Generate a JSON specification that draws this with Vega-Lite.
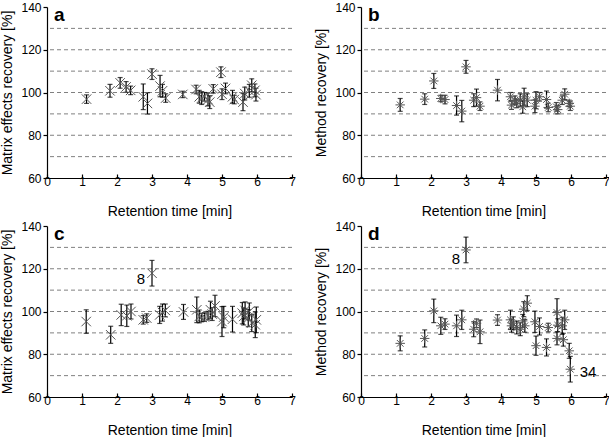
{
"$schema":"https://vega.github.io/schema/vega-lite/v6.json",
"padding":{"left":0,"top":1,"right":0,"bottom":0},
"spacing":2,
"datasets":{
"grid":[{"g":70},{"g":80},{"g":90},{"g":100},{"g":110},{"g":120},{"g":130}],
"a":[
{"x":1.13,"y":96.9,"lo":94.9,"hi":98.9},{"x":1.8,"y":100.8,"lo":97.8,"hi":103.8},{"x":2.09,"y":104.5,"lo":102,"hi":107},{"x":2.26,"y":102.6,"lo":100.1,"hi":105.1},{"x":2.39,"y":101,"lo":99,"hi":103},{"x":2.75,"y":98,"lo":92,"hi":104},{"x":2.87,"y":94.9,"lo":89.9,"hi":99.9},{"x":3.0,"y":108.6,"lo":106.1,"hi":111.1},{"x":3.23,"y":103,"lo":98,"hi":108},{"x":3.3,"y":100.8,"lo":97.8,"hi":103.8},{"x":3.39,"y":97.4,"lo":95.4,"hi":99.4},{"x":3.88,"y":99.1,"lo":97.6,"hi":100.6},{"x":4.26,"y":101.4,"lo":99.4,"hi":103.4},{"x":4.35,"y":98,"lo":95,"hi":101},{"x":4.42,"y":97.4,"lo":94.4,"hi":100.4},{"x":4.5,"y":98,"lo":96,"hi":100},{"x":4.6,"y":96.7,"lo":93.7,"hi":99.7},{"x":4.65,"y":95.5,"lo":92.5,"hi":98.5},{"x":4.75,"y":101.7,"lo":99.7,"hi":103.7},{"x":4.97,"y":109.5,"lo":107,"hi":112},{"x":5.0,"y":99.2,"lo":96.7,"hi":101.7},{"x":5.1,"y":101.9,"lo":99.4,"hi":104.4},{"x":5.3,"y":98,"lo":95,"hi":101},{"x":5.35,"y":96.7,"lo":94.7,"hi":98.7},{"x":5.6,"y":95.5,"lo":91.5,"hi":99.5},{"x":5.65,"y":99.5,"lo":96.5,"hi":102.5},{"x":5.78,"y":100.8,"lo":97.8,"hi":103.8},{"x":5.85,"y":103.4,"lo":100.4,"hi":106.4},{"x":5.94,"y":101,"lo":98,"hi":104},{"x":5.97,"y":99,"lo":96,"hi":102}],
"b":[
{"x":1.12,"y":94.2,"lo":91.2,"hi":97.2},{"x":1.82,"y":96.9,"lo":94.4,"hi":99.4},{"x":2.08,"y":105.4,"lo":101.9,"hi":108.9},{"x":2.28,"y":97.2,"lo":95.7,"hi":98.7},{"x":2.4,"y":96.7,"lo":94.7,"hi":98.7},{"x":2.73,"y":93.9,"lo":89.4,"hi":98.4},{"x":2.88,"y":91.3,"lo":86.3,"hi":96.3},{"x":3.0,"y":112,"lo":109,"hi":115},{"x":3.22,"y":96.4,"lo":93.4,"hi":99.4},{"x":3.3,"y":97.6,"lo":93.6,"hi":101.6},{"x":3.4,"y":93.6,"lo":91.6,"hi":95.6},{"x":3.9,"y":101.1,"lo":96.1,"hi":106.1},{"x":4.27,"y":98,"lo":96,"hi":100},{"x":4.3,"y":94.1,"lo":92.1,"hi":96.1},{"x":4.4,"y":96.4,"lo":94.4,"hi":98.4},{"x":4.45,"y":94.9,"lo":92.9,"hi":96.9},{"x":4.55,"y":96.4,"lo":93.4,"hi":99.4},{"x":4.62,"y":93.3,"lo":90.3,"hi":96.3},{"x":4.66,"y":98,"lo":94,"hi":102},{"x":4.75,"y":96.4,"lo":93.4,"hi":99.4},{"x":4.97,"y":93.6,"lo":90.6,"hi":96.6},{"x":5.0,"y":96.4,"lo":92.4,"hi":100.4},{"x":5.1,"y":98,"lo":96,"hi":100},{"x":5.3,"y":96.7,"lo":92.7,"hi":100.7},{"x":5.35,"y":93,"lo":91,"hi":95},{"x":5.58,"y":93.3,"lo":91.3,"hi":95.3},{"x":5.62,"y":92,"lo":90,"hi":94},{"x":5.75,"y":96.4,"lo":94.4,"hi":98.4},{"x":5.82,"y":99.2,"lo":96.7,"hi":101.7},{"x":5.95,"y":94.9,"lo":93.4,"hi":96.4},{"x":5.98,"y":93.6,"lo":91.6,"hi":95.6}],
"c":[
{"x":1.12,"y":95.3,"lo":89.8,"hi":100.8},{"x":1.82,"y":89.1,"lo":85.1,"hi":93.1},{"x":2.12,"y":98.4,"lo":93.4,"hi":103.4},{"x":2.28,"y":98,"lo":93,"hi":103},{"x":2.4,"y":100,"lo":96.5,"hi":103.5},{"x":2.75,"y":96.1,"lo":94.1,"hi":98.1},{"x":2.85,"y":96.9,"lo":94.9,"hi":98.9},{"x":3.0,"y":117.9,"lo":111.9,"hi":123.9},{"x":3.22,"y":98.4,"lo":94.4,"hi":102.4},{"x":3.3,"y":99.5,"lo":95.5,"hi":103.5},{"x":3.38,"y":100.5,"lo":97.5,"hi":103.5},{"x":3.9,"y":99.8,"lo":96.3,"hi":103.3},{"x":4.28,"y":100.8,"lo":94.8,"hi":106.8},{"x":4.35,"y":97.7,"lo":94.7,"hi":100.7},{"x":4.42,"y":97.2,"lo":95.2,"hi":99.2},{"x":4.5,"y":97.4,"lo":95.4,"hi":99.4},{"x":4.6,"y":98.1,"lo":96.1,"hi":100.1},{"x":4.67,"y":100.8,"lo":96.8,"hi":104.8},{"x":4.72,"y":98.8,"lo":95.8,"hi":101.8},{"x":4.8,"y":102.6,"lo":97.6,"hi":107.6},{"x":5.0,"y":95.3,"lo":88.3,"hi":102.3},{"x":5.05,"y":97.4,"lo":92.4,"hi":102.4},{"x":5.3,"y":96.4,"lo":90.4,"hi":102.4},{"x":5.58,"y":99.2,"lo":94.2,"hi":104.2},{"x":5.62,"y":97.7,"lo":93.7,"hi":101.7},{"x":5.66,"y":100.5,"lo":96.5,"hi":104.5},{"x":5.75,"y":96.9,"lo":92.9,"hi":100.9},{"x":5.78,"y":100,"lo":96,"hi":104},{"x":5.85,"y":94.6,"lo":90.6,"hi":98.6},{"x":5.95,"y":93.8,"lo":87.8,"hi":99.8},{"x":5.98,"y":96.1,"lo":90.1,"hi":102.1}],
"d":[
{"x":1.12,"y":85.1,"lo":81.6,"hi":88.6},{"x":1.82,"y":87.4,"lo":83.4,"hi":91.4},{"x":2.08,"y":100.3,"lo":94.8,"hi":105.8},{"x":2.28,"y":93.3,"lo":89.3,"hi":97.3},{"x":2.4,"y":94.1,"lo":91.6,"hi":96.6},{"x":2.73,"y":93.3,"lo":88.3,"hi":98.3},{"x":2.88,"y":96.1,"lo":91.6,"hi":100.6},{"x":3.0,"y":128.8,"lo":122.8,"hi":134.8},{"x":3.22,"y":91.7,"lo":88.2,"hi":95.2},{"x":3.3,"y":94.5,"lo":92.5,"hi":96.5},{"x":3.4,"y":90.5,"lo":85,"hi":96},{"x":3.9,"y":96,"lo":93.5,"hi":98.5},{"x":4.27,"y":96.1,"lo":91.6,"hi":100.6},{"x":4.3,"y":93.3,"lo":90.3,"hi":96.3},{"x":4.35,"y":94.5,"lo":91.5,"hi":97.5},{"x":4.45,"y":92.5,"lo":89.5,"hi":95.5},{"x":4.55,"y":91.7,"lo":88.7,"hi":94.7},{"x":4.62,"y":95.6,"lo":92.6,"hi":98.6},{"x":4.65,"y":101.1,"lo":97.6,"hi":104.6},{"x":4.68,"y":93.3,"lo":90.3,"hi":96.3},{"x":4.75,"y":103.9,"lo":100.4,"hi":107.4},{"x":4.97,"y":95.2,"lo":90.2,"hi":100.2},{"x":5.0,"y":84,"lo":79.5,"hi":88.5},{"x":5.1,"y":93,"lo":89,"hi":97},{"x":5.3,"y":83.2,"lo":79.2,"hi":87.2},{"x":5.35,"y":92.5,"lo":90.5,"hi":94.5},{"x":5.6,"y":99.5,"lo":93,"hi":106},{"x":5.62,"y":93.6,"lo":90.6,"hi":96.6},{"x":5.6,"y":87.4,"lo":84.4,"hi":90.4},{"x":5.75,"y":93.3,"lo":89.3,"hi":97.3},{"x":5.78,"y":86.8,"lo":83.8,"hi":89.8},{"x":5.82,"y":96.1,"lo":91.6,"hi":100.6},{"x":5.95,"y":81.6,"lo":78.1,"hi":85.1},{"x":5.98,"y":73,"lo":67,"hi":79}]
},
"vconcat":[
{"hconcat":[
{"width":245,"height":171,"layer":[
{"data":{"name":"grid"},"mark":{"type":"rule","stroke":"#808080","strokeDash":[4,3],"strokeWidth":1},"encoding":{"y":{"field":"g","type":"quantitative","scale":{"domain":[60,140],"nice":false,"zero":false},"axis":{"title":"Matrix effects recovery [%]","values":[60,80,100,120,140],"labelOverlap":false}}}},
{"data":{"name":"a"},"mark":{"type":"rule","color":"#000","strokeWidth":1.2},"encoding":{"x":{"field":"x","type":"quantitative","scale":{"domain":[0,7],"nice":false},"axis":{"title":"Retention time [min]","values":[0,1,2,3,4,5,6,7],"labelOverlap":false,"labelFlush":false}},"y":{"field":"lo","type":"quantitative","axis":{"title":"Matrix effects recovery [%]","values":[60,80,100,120,140],"labelOverlap":false}},"y2":{"field":"hi"}}},
{"data":{"name":"a"},"mark":{"type":"tick","orient":"horizontal","color":"#000","size":5,"thickness":1.2},"encoding":{"x":{"field":"x","type":"quantitative","axis":{"title":"Retention time [min]","values":[0,1,2,3,4,5,6,7],"labelOverlap":false,"labelFlush":false}},"y":{"field":"lo","type":"quantitative","axis":{"title":"Matrix effects recovery [%]","values":[60,80,100,120,140],"labelOverlap":false}}}},
{"data":{"name":"a"},"mark":{"type":"tick","orient":"horizontal","color":"#000","size":5,"thickness":1.2},"encoding":{"x":{"field":"x","type":"quantitative","axis":{"title":"Retention time [min]","values":[0,1,2,3,4,5,6,7],"labelOverlap":false,"labelFlush":false}},"y":{"field":"hi","type":"quantitative","axis":{"title":"Matrix effects recovery [%]","values":[60,80,100,120,140],"labelOverlap":false}}}},
{"data":{"name":"a"},"mark":{"type":"point","shape":"M-1,-1L1,1M-1,1L1,-1","filled":false,"stroke":"#555","strokeWidth":1,"size":90,"opacity":1},"encoding":{"x":{"field":"x","type":"quantitative","axis":{"title":"Retention time [min]","values":[0,1,2,3,4,5,6,7],"labelOverlap":false,"labelFlush":false}},"y":{"field":"y","type":"quantitative","axis":{"title":"Matrix effects recovery [%]","values":[60,80,100,120,140],"labelOverlap":false}}}},
{"data":{"values":[{"x":0.2,"y":133.3,"t":"a"}]},"mark":{"type":"text","align":"left","baseline":"alphabetic","fontSize":19,"fontWeight":"bold","font":"Liberation Sans"},"encoding":{"x":{"field":"x","type":"quantitative","axis":{"title":"Retention time [min]","values":[0,1,2,3,4,5,6,7],"labelOverlap":false,"labelFlush":false}},"y":{"field":"y","type":"quantitative","axis":{"title":"Matrix effects recovery [%]","values":[60,80,100,120,140],"labelOverlap":false}},"text":{"field":"t"}}}
]},
{"width":245,"height":171,"layer":[
{"data":{"name":"grid"},"mark":{"type":"rule","stroke":"#808080","strokeDash":[4,3],"strokeWidth":1},"encoding":{"y":{"field":"g","type":"quantitative","scale":{"domain":[60,140],"nice":false,"zero":false},"axis":{"title":"Method recovery [%]","values":[60,80,100,120,140],"labelOverlap":false}}}},
{"data":{"name":"b"},"mark":{"type":"rule","color":"#000","strokeWidth":1.2},"encoding":{"x":{"field":"x","type":"quantitative","scale":{"domain":[0,7],"nice":false},"axis":{"title":"Retention time [min]","values":[0,1,2,3,4,5,6,7],"labelOverlap":false,"labelFlush":false}},"y":{"field":"lo","type":"quantitative","axis":{"title":"Method recovery [%]","values":[60,80,100,120,140],"labelOverlap":false}},"y2":{"field":"hi"}}},
{"data":{"name":"b"},"mark":{"type":"tick","orient":"horizontal","color":"#000","size":5,"thickness":1.2},"encoding":{"x":{"field":"x","type":"quantitative","axis":{"title":"Retention time [min]","values":[0,1,2,3,4,5,6,7],"labelOverlap":false,"labelFlush":false}},"y":{"field":"lo","type":"quantitative","axis":{"title":"Method recovery [%]","values":[60,80,100,120,140],"labelOverlap":false}}}},
{"data":{"name":"b"},"mark":{"type":"tick","orient":"horizontal","color":"#000","size":5,"thickness":1.2},"encoding":{"x":{"field":"x","type":"quantitative","axis":{"title":"Retention time [min]","values":[0,1,2,3,4,5,6,7],"labelOverlap":false,"labelFlush":false}},"y":{"field":"hi","type":"quantitative","axis":{"title":"Method recovery [%]","values":[60,80,100,120,140],"labelOverlap":false}}}},
{"data":{"name":"b"},"mark":{"type":"point","shape":"M-1,0L1,0M0,-1L0,1M-0.7,-0.7L0.7,0.7M-0.7,0.7L0.7,-0.7","filled":false,"stroke":"#555","strokeWidth":1,"size":90,"opacity":1},"encoding":{"x":{"field":"x","type":"quantitative","axis":{"title":"Retention time [min]","values":[0,1,2,3,4,5,6,7],"labelOverlap":false,"labelFlush":false}},"y":{"field":"y","type":"quantitative","axis":{"title":"Method recovery [%]","values":[60,80,100,120,140],"labelOverlap":false}}}},
{"data":{"values":[{"x":0.2,"y":133.3,"t":"b"}]},"mark":{"type":"text","align":"left","baseline":"alphabetic","fontSize":19,"fontWeight":"bold","font":"Liberation Sans"},"encoding":{"x":{"field":"x","type":"quantitative","axis":{"title":"Retention time [min]","values":[0,1,2,3,4,5,6,7],"labelOverlap":false,"labelFlush":false}},"y":{"field":"y","type":"quantitative","axis":{"title":"Method recovery [%]","values":[60,80,100,120,140],"labelOverlap":false}},"text":{"field":"t"}}}
]}
],"spacing":18},
{"hconcat":[
{"width":245,"height":171,"layer":[
{"data":{"name":"grid"},"mark":{"type":"rule","stroke":"#808080","strokeDash":[4,3],"strokeWidth":1},"encoding":{"y":{"field":"g","type":"quantitative","scale":{"domain":[60,140],"nice":false,"zero":false},"axis":{"title":"Matrix effects recovery [%]","values":[60,80,100,120,140],"labelOverlap":false}}}},
{"data":{"name":"c"},"mark":{"type":"rule","color":"#000","strokeWidth":1.2},"encoding":{"x":{"field":"x","type":"quantitative","scale":{"domain":[0,7],"nice":false},"axis":{"title":"Retention time [min]","values":[0,1,2,3,4,5,6,7],"labelOverlap":false,"labelFlush":false}},"y":{"field":"lo","type":"quantitative","axis":{"title":"Matrix effects recovery [%]","values":[60,80,100,120,140],"labelOverlap":false}},"y2":{"field":"hi"}}},
{"data":{"name":"c"},"mark":{"type":"tick","orient":"horizontal","color":"#000","size":5,"thickness":1.2},"encoding":{"x":{"field":"x","type":"quantitative","axis":{"title":"Retention time [min]","values":[0,1,2,3,4,5,6,7],"labelOverlap":false,"labelFlush":false}},"y":{"field":"lo","type":"quantitative","axis":{"title":"Matrix effects recovery [%]","values":[60,80,100,120,140],"labelOverlap":false}}}},
{"data":{"name":"c"},"mark":{"type":"tick","orient":"horizontal","color":"#000","size":5,"thickness":1.2},"encoding":{"x":{"field":"x","type":"quantitative","axis":{"title":"Retention time [min]","values":[0,1,2,3,4,5,6,7],"labelOverlap":false,"labelFlush":false}},"y":{"field":"hi","type":"quantitative","axis":{"title":"Matrix effects recovery [%]","values":[60,80,100,120,140],"labelOverlap":false}}}},
{"data":{"name":"c"},"mark":{"type":"point","shape":"M-1,-1L1,1M-1,1L1,-1","filled":false,"stroke":"#555","strokeWidth":1,"size":90,"opacity":1},"encoding":{"x":{"field":"x","type":"quantitative","axis":{"title":"Retention time [min]","values":[0,1,2,3,4,5,6,7],"labelOverlap":false,"labelFlush":false}},"y":{"field":"y","type":"quantitative","axis":{"title":"Matrix effects recovery [%]","values":[60,80,100,120,140],"labelOverlap":false}}}},
{"data":{"values":[{"x":0.2,"y":133.3,"t":"c"}]},"mark":{"type":"text","align":"left","baseline":"alphabetic","fontSize":19,"fontWeight":"bold","font":"Liberation Sans"},"encoding":{"x":{"field":"x","type":"quantitative","axis":{"title":"Retention time [min]","values":[0,1,2,3,4,5,6,7],"labelOverlap":false,"labelFlush":false}},"y":{"field":"y","type":"quantitative","axis":{"title":"Matrix effects recovery [%]","values":[60,80,100,120,140],"labelOverlap":false}},"text":{"field":"t"}}},
{"data":{"values":[{"x":2.8,"y":115,"t":"8"}]},"mark":{"type":"text","align":"right","baseline":"middle","fontSize":15,"font":"Liberation Sans"},"encoding":{"x":{"field":"x","type":"quantitative","axis":{"title":"Retention time [min]","values":[0,1,2,3,4,5,6,7],"labelOverlap":false,"labelFlush":false}},"y":{"field":"y","type":"quantitative","axis":{"title":"Matrix effects recovery [%]","values":[60,80,100,120,140],"labelOverlap":false}},"text":{"field":"t"}}}
]},
{"width":245,"height":171,"layer":[
{"data":{"name":"grid"},"mark":{"type":"rule","stroke":"#808080","strokeDash":[4,3],"strokeWidth":1},"encoding":{"y":{"field":"g","type":"quantitative","scale":{"domain":[60,140],"nice":false,"zero":false},"axis":{"title":"Method recovery [%]","values":[60,80,100,120,140],"labelOverlap":false}}}},
{"data":{"name":"d"},"mark":{"type":"rule","color":"#000","strokeWidth":1.2},"encoding":{"x":{"field":"x","type":"quantitative","scale":{"domain":[0,7],"nice":false},"axis":{"title":"Retention time [min]","values":[0,1,2,3,4,5,6,7],"labelOverlap":false,"labelFlush":false}},"y":{"field":"lo","type":"quantitative","axis":{"title":"Method recovery [%]","values":[60,80,100,120,140],"labelOverlap":false}},"y2":{"field":"hi"}}},
{"data":{"name":"d"},"mark":{"type":"tick","orient":"horizontal","color":"#000","size":5,"thickness":1.2},"encoding":{"x":{"field":"x","type":"quantitative","axis":{"title":"Retention time [min]","values":[0,1,2,3,4,5,6,7],"labelOverlap":false,"labelFlush":false}},"y":{"field":"lo","type":"quantitative","axis":{"title":"Method recovery [%]","values":[60,80,100,120,140],"labelOverlap":false}}}},
{"data":{"name":"d"},"mark":{"type":"tick","orient":"horizontal","color":"#000","size":5,"thickness":1.2},"encoding":{"x":{"field":"x","type":"quantitative","axis":{"title":"Retention time [min]","values":[0,1,2,3,4,5,6,7],"labelOverlap":false,"labelFlush":false}},"y":{"field":"hi","type":"quantitative","axis":{"title":"Method recovery [%]","values":[60,80,100,120,140],"labelOverlap":false}}}},
{"data":{"name":"d"},"mark":{"type":"point","shape":"M-1,0L1,0M0,-1L0,1M-0.7,-0.7L0.7,0.7M-0.7,0.7L0.7,-0.7","filled":false,"stroke":"#555","strokeWidth":1,"size":90,"opacity":1},"encoding":{"x":{"field":"x","type":"quantitative","axis":{"title":"Retention time [min]","values":[0,1,2,3,4,5,6,7],"labelOverlap":false,"labelFlush":false}},"y":{"field":"y","type":"quantitative","axis":{"title":"Method recovery [%]","values":[60,80,100,120,140],"labelOverlap":false}}}},
{"data":{"values":[{"x":0.2,"y":133.3,"t":"d"}]},"mark":{"type":"text","align":"left","baseline":"alphabetic","fontSize":19,"fontWeight":"bold","font":"Liberation Sans"},"encoding":{"x":{"field":"x","type":"quantitative","axis":{"title":"Retention time [min]","values":[0,1,2,3,4,5,6,7],"labelOverlap":false,"labelFlush":false}},"y":{"field":"y","type":"quantitative","axis":{"title":"Method recovery [%]","values":[60,80,100,120,140],"labelOverlap":false}},"text":{"field":"t"}}},
{"data":{"values":[{"x":2.83,"y":124.7,"t":"8"}]},"mark":{"type":"text","align":"right","baseline":"middle","fontSize":15,"font":"Liberation Sans"},"encoding":{"x":{"field":"x","type":"quantitative","axis":{"title":"Retention time [min]","values":[0,1,2,3,4,5,6,7],"labelOverlap":false,"labelFlush":false}},"y":{"field":"y","type":"quantitative","axis":{"title":"Method recovery [%]","values":[60,80,100,120,140],"labelOverlap":false}},"text":{"field":"t"}}},
{"data":{"values":[{"x":6.25,"y":71.5,"t":"34"}]},"mark":{"type":"text","align":"left","baseline":"middle","fontSize":15,"font":"Liberation Sans"},"encoding":{"x":{"field":"x","type":"quantitative","axis":{"title":"Retention time [min]","values":[0,1,2,3,4,5,6,7],"labelOverlap":false,"labelFlush":false}},"y":{"field":"y","type":"quantitative","axis":{"title":"Method recovery [%]","values":[60,80,100,120,140],"labelOverlap":false}},"text":{"field":"t"}}}
]}
],"spacing":18}
],
"config":{
"view":{"stroke":null},
"font":"Liberation Sans",
"axis":{"domainColor":"#000","tickColor":"#000","labelColor":"#000","titleColor":"#000","labelFontSize":12,"titleFontSize":14,"titleFontWeight":"normal","labelFont":"Liberation Sans","titleFont":"Liberation Sans","grid":false,"domainWidth":1.2,"tickWidth":1.2,"labelFlush":false,"labelOverlap":false},
"axisX":{"tickSize":-4,"labelPadding":2,"titlePadding":17},
"axisY":{"tickSize":4,"labelPadding":2,"titlePadding":6}
}
}
